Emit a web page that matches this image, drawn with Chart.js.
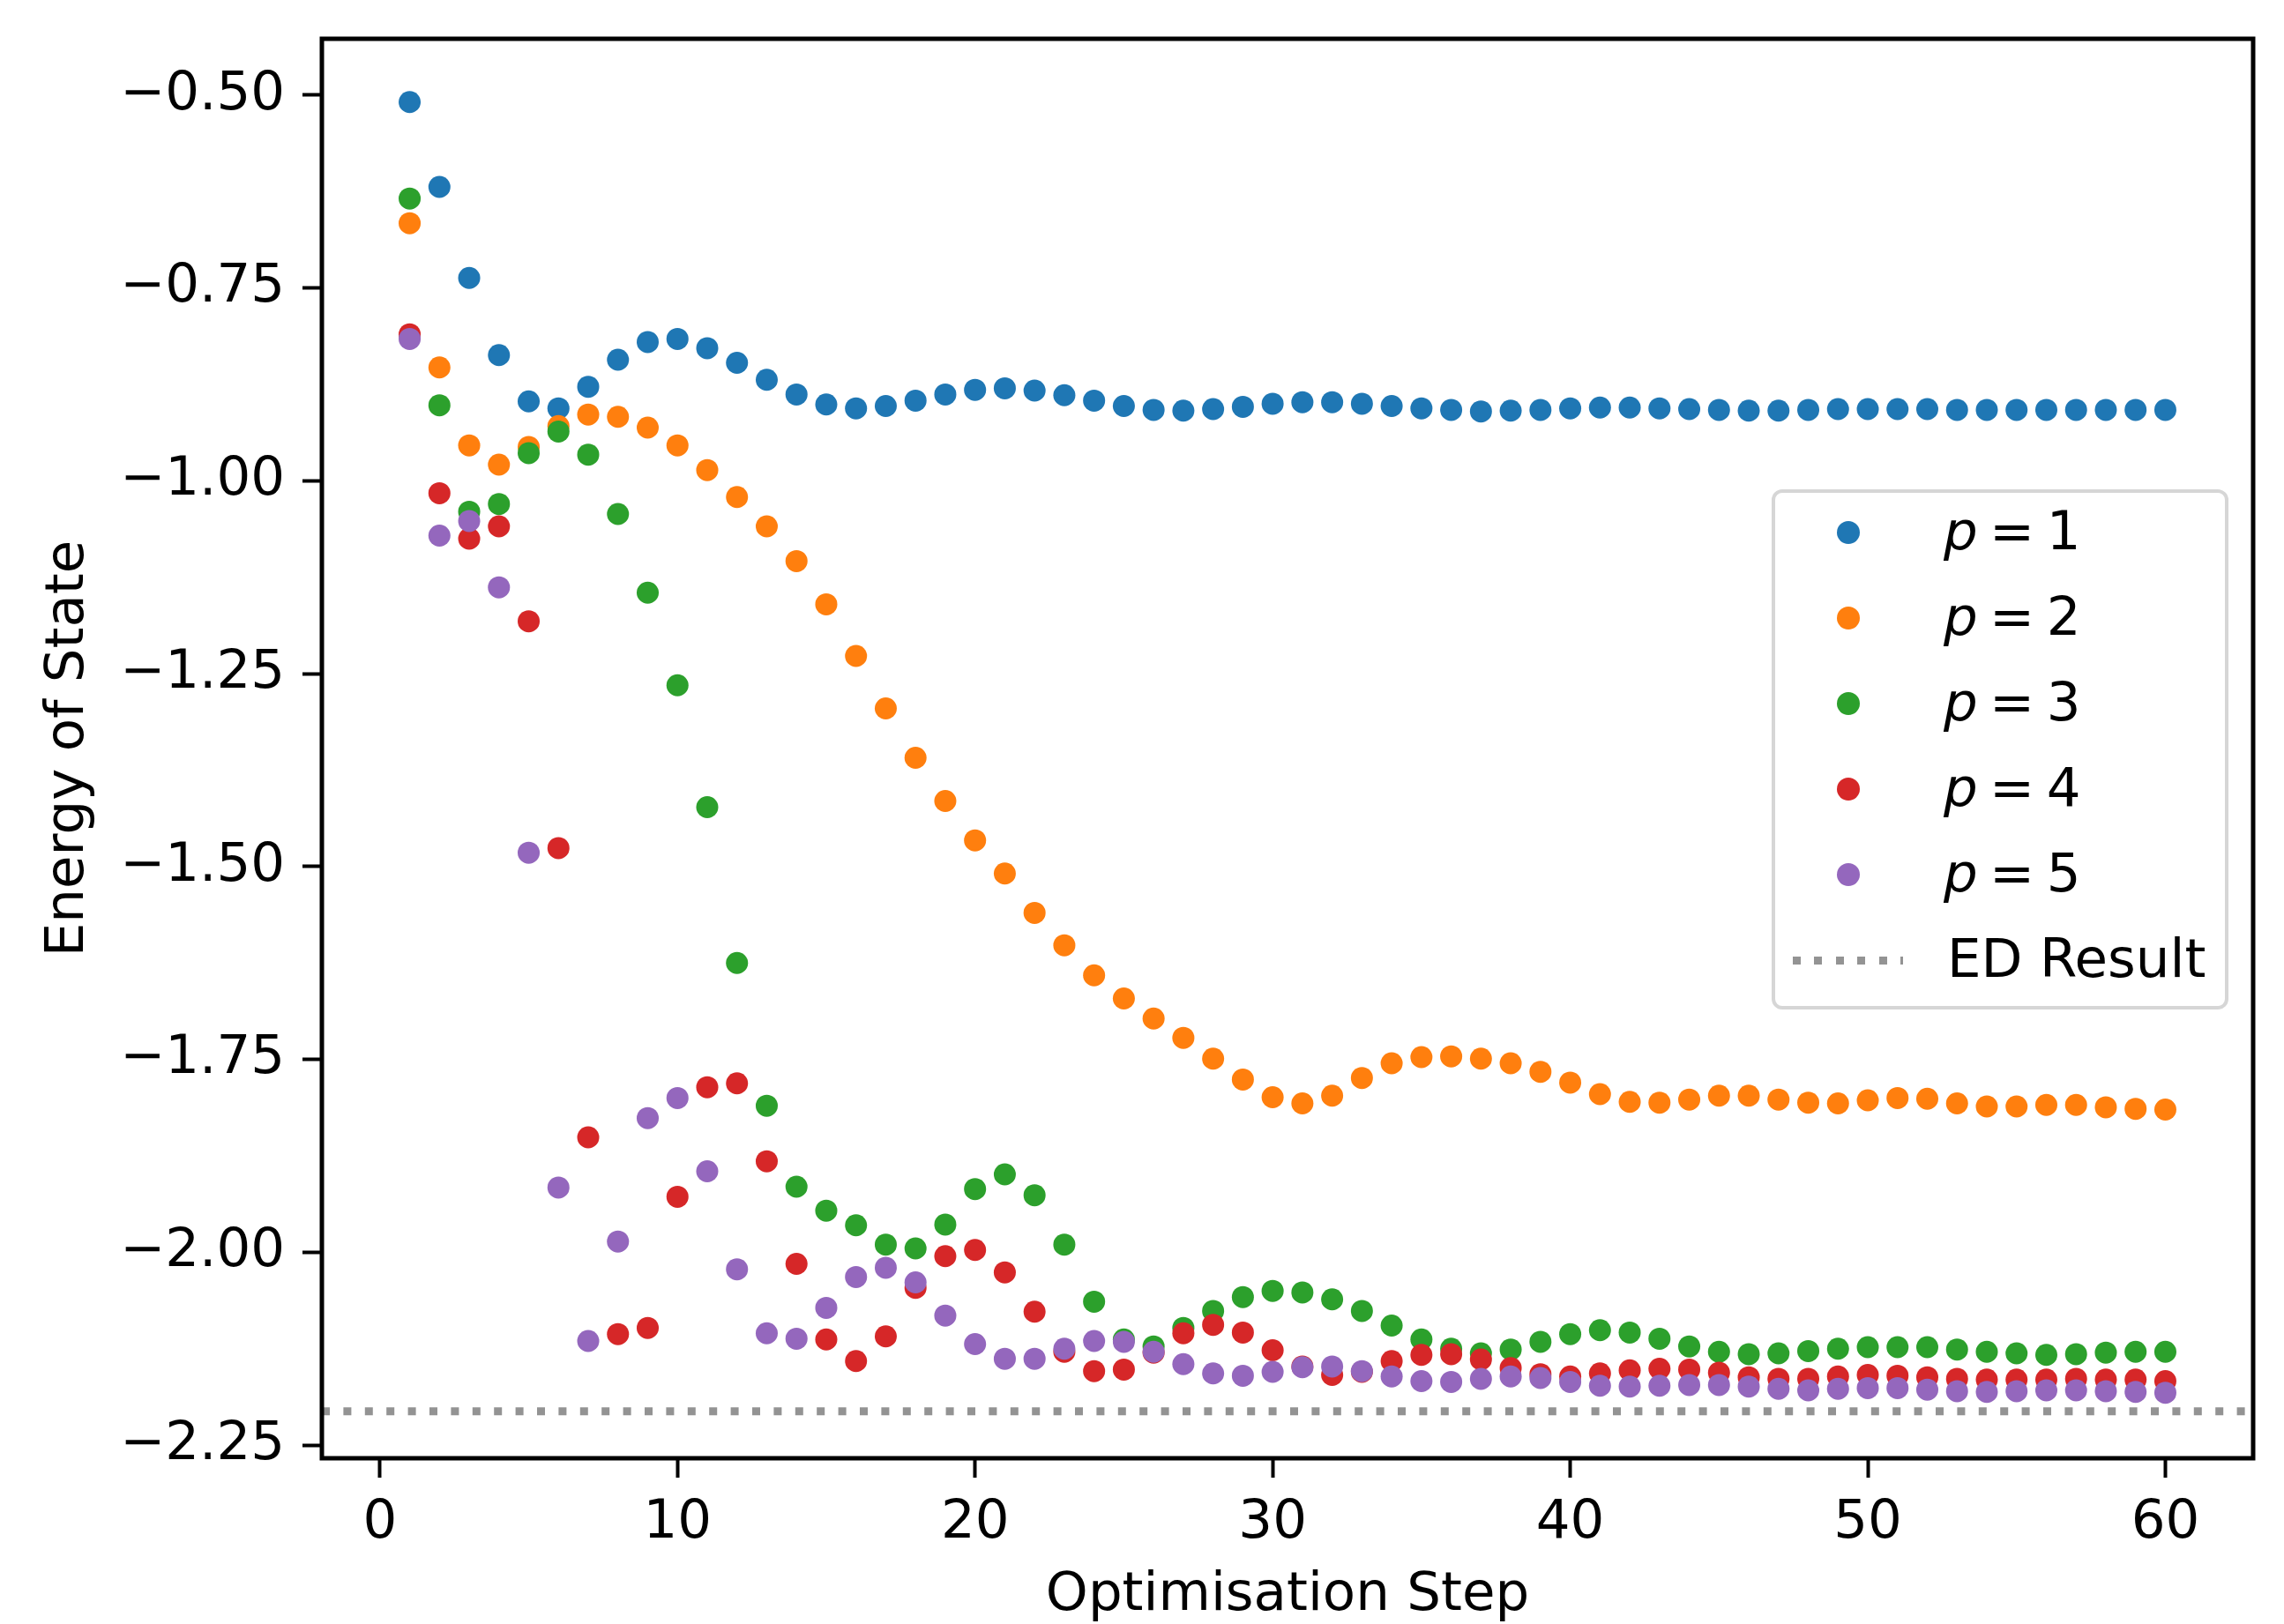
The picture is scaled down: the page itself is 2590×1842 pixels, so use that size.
<!DOCTYPE html>
<html>
<head>
    <title>Energy of State vs Optimisation Step</title>
    <script src="https://cdn.jsdelivr.net/npm/chart.js@4.4.1/dist/chart.umd.min.js"></script>
    <style type="text/css">
        body { margin: 0; background: #ffffff; }
        #wrap { position: relative; width: 2590px; height: 1842px; }
        #legend {
            position: absolute; left: 2009px; top: 555px; width: 518px; height: 590px;
            box-sizing: border-box; border: 4px solid #d6d6d6; border-radius: 12px;
            background: rgba(255, 255, 255, 0.8);
            font-family: 'DejaVu Sans'; font-size: 61px; color: #000;
        }
        .row { position: absolute; left: 0; width: 100%; height: 97px; line-height: 97px; }
        .dot { position: absolute; left: 70px; top: 35px; width: 26px; height: 26px; border-radius: 50%; }
        .dash { position: absolute; left: 20px; top: 44px; width: 125px; height: 9px; }
        .txt { position: absolute; left: 191px; top: -3px; white-space: nowrap; }
        .math { word-spacing: -6px; }
    </style>
</head>
<body>
<div id="wrap">
    <canvas id="Chart"></canvas>
    <div id="legend"></div>
</div>
<script>
    // optimisation steps (x)
    var steps = [1, 2, 3, 4, 5, 6, 7, 8, 9, 10, 11, 12, 13, 14, 15, 16, 17, 18, 19, 20,
                 21, 22, 23, 24, 25, 26, 27, 28, 29, 30, 31, 32, 33, 34, 35, 36, 37, 38, 39, 40,
                 41, 42, 43, 44, 45, 46, 47, 48, 49, 50, 51, 52, 53, 54, 55, 56, 57, 58, 59, 60];

    // energy for each circuit depth p
    var energyP1 = [-0.509, -0.619, -0.737, -0.837, -0.897, -0.906, -0.878, -0.843, -0.820, -0.816,
                    -0.828, -0.847, -0.869, -0.888, -0.901, -0.906, -0.903, -0.896, -0.888, -0.882,
                    -0.880, -0.883, -0.889, -0.896, -0.903, -0.908, -0.909, -0.907, -0.904, -0.900,
                    -0.898, -0.898, -0.900, -0.903, -0.906, -0.908, -0.910, -0.909, -0.908, -0.906,
                    -0.905, -0.905, -0.906, -0.907, -0.908, -0.909, -0.909, -0.908, -0.907, -0.907,
                    -0.907, -0.907, -0.908, -0.908, -0.908, -0.908, -0.908, -0.908, -0.908, -0.908];
    var energyP2 = [-0.666, -0.853, -0.954, -0.979, -0.956, -0.929, -0.914, -0.917, -0.931, -0.954,
                    -0.986, -1.021, -1.059, -1.104, -1.160, -1.227, -1.295, -1.359, -1.415, -1.466,
                    -1.509, -1.560, -1.602, -1.641, -1.671, -1.697, -1.722, -1.749, -1.776, -1.799,
                    -1.807, -1.797, -1.774, -1.755, -1.747, -1.746, -1.749, -1.755, -1.766, -1.780,
                    -1.795, -1.805, -1.806, -1.802, -1.797, -1.797, -1.802, -1.806, -1.807, -1.803,
                    -1.800, -1.801, -1.807, -1.811, -1.811, -1.809, -1.809, -1.812, -1.814, -1.815];
    var energyP3 = [-0.634, -0.902, -1.040, -1.030, -0.964, -0.936, -0.966, -1.043, -1.145, -1.265,
                    -1.423, -1.625, -1.810, -1.915, -1.946, -1.965, -1.990, -1.995, -1.964, -1.918,
                    -1.899, -1.926, -1.990, -2.064, -2.113, -2.122, -2.098, -2.076, -2.058, -2.050,
                    -2.052, -2.061, -2.076, -2.095, -2.113, -2.125, -2.131, -2.126, -2.116, -2.106,
                    -2.101, -2.104, -2.112, -2.122, -2.129, -2.132, -2.131, -2.128, -2.125, -2.123,
                    -2.123, -2.123, -2.126, -2.129, -2.131, -2.133, -2.132, -2.130, -2.129, -2.129];
    var energyP4 = [-0.810, -1.016, -1.075, -1.059, -1.182, -1.476, -1.851, -2.106, -2.098, -1.928,
                    -1.786, -1.781, -1.882, -2.015, -2.113, -2.141, -2.109, -2.046, -2.005, -1.997,
                    -2.026, -2.077, -2.129, -2.154, -2.152, -2.130, -2.105, -2.094, -2.104, -2.127,
                    -2.148, -2.159, -2.155, -2.141, -2.133, -2.132, -2.139, -2.150, -2.158, -2.161,
                    -2.157, -2.153, -2.151, -2.152, -2.156, -2.162, -2.164, -2.164, -2.161, -2.159,
                    -2.160, -2.162, -2.164, -2.165, -2.165, -2.165, -2.164, -2.165, -2.165, -2.167];
    var energyP5 = [-0.816, -1.071, -1.052, -1.138, -1.482, -1.916, -2.115, -1.986, -1.826, -1.800,
                    -1.895, -2.022, -2.105, -2.112, -2.072, -2.032, -2.020, -2.039, -2.082, -2.119,
                    -2.138, -2.138, -2.125, -2.115, -2.116, -2.129, -2.145, -2.157, -2.160, -2.155,
                    -2.149, -2.148, -2.154, -2.161, -2.167, -2.168, -2.164, -2.161, -2.163, -2.168,
                    -2.173, -2.174, -2.173, -2.172, -2.172, -2.174, -2.177, -2.179, -2.177, -2.176,
                    -2.176, -2.178, -2.180, -2.181, -2.180, -2.179, -2.179, -2.180, -2.181, -2.182];

    // exact diagonalisation reference energy
    var edResult = -2.206;

    var depths = [1, 2, 3, 4, 5];
    var colours = ['#1f77b4', '#ff7f0e', '#2ca02c', '#d62728', '#9467bd'];
    var xTicks = [0, 10, 20, 30, 40, 50, 60];
    var yTicks = [-0.50, -0.75, -1.00, -1.25, -1.50, -1.75, -2.00, -2.25];
    var xMin = -1.95, xMax = 62.95;
    var yMin = -2.267, yMax = -0.427;

    var font = 'DejaVu Sans';
    Chart.defaults.font.family = font;
    Chart.defaults.color = '#000';

    var series = [energyP1, energyP2, energyP3, energyP4, energyP5];
    var datasets = series.map(function(vals, i) {
        return {
            label: 'p = ' + depths[i],
            type: 'scatter',
            data: steps.map(function(s, j) { return {x: s, y: vals[j]}; }),
            backgroundColor: colours[i],
            borderWidth: 0,
            pointRadius: 12.5,
            pointHoverRadius: 12.5,
            order: 10 - i
        };
    });
    datasets.push({
        label: 'ED Result',
        type: 'line',
        data: [{x: xMin, y: edResult}, {x: xMax, y: edResult}],
        borderColor: 'rgba(128, 128, 128, 0.85)',
        borderWidth: 9,
        borderDash: [9, 15.4],
        borderCapStyle: 'butt',
        pointRadius: 0,
        fill: false,
        order: 0
    });

    // box round the axes, like the spines
    var framePlugin = {
        id: 'frame',
        afterDatasetsDraw: function(chart) {
            var a = chart.chartArea, ctx = chart.ctx;
            ctx.save();
            ctx.strokeStyle = '#000';
            ctx.lineWidth = 5;
            ctx.strokeRect(a.left, a.top, a.right - a.left, a.bottom - a.top);
            ctx.restore();
        }
    };

    // html legend inside the axes
    var legendPlugin = {
        id: 'htmlLegend',
        afterUpdate: function(chart) {
            var box = document.getElementById('legend');
            var html = '';
            chart.data.datasets.forEach(function(ds, i) {
                html += '<div class="row" style="top:' + (-3 + 97 * i) + 'px">';
                if (ds.type === 'line') {
                    html += '<div class="dash" style="background: repeating-linear-gradient(90deg, ' +
                        ds.borderColor + ' 0 9px, transparent 9px 24.4px)"></div>';
                    html += '<span class="txt" style="left:195px">' + ds.label + '</span>';
                } else {
                    html += '<div class="dot" style="background:' + ds.backgroundColor + '"></div>';
                    html += '<span class="txt math"><i>p</i> = ' + depths[i] + '</span>';
                }
                html += '</div>';
            });
            box.innerHTML = html;
        }
    };

    var gridOpts = {
        display: true,
        drawOnChartArea: false,
        drawTicks: true,
        tickLength: 22,
        tickWidth: 4,
        tickColor: '#000'
    };

    var ctx = document.getElementById('Chart').getContext('2d');
    var chart = new Chart(ctx, {
        type: 'scatter',
        data: { datasets: datasets },
        plugins: [framePlugin, legendPlugin],
        options: {
            responsive: true,
            maintainAspectRatio: false,
            animation: false,
            devicePixelRatio: 1,
            layout: { padding: { left: 0, right: 35, top: 44, bottom: 0 } },
            plugins: {
                legend: { display: false },
                tooltip: { enabled: false }
            },
            scales: {
                x: {
                    type: 'linear',
                    min: xMin,
                    max: xMax,
                    afterBuildTicks: function(scale) {
                        scale.ticks = xTicks.map(function(v) { return {value: v}; });
                    },
                    afterFit: function(scale) {
                        scale.height = 188;
                        scale.paddingLeft = 0;
                        scale.paddingRight = 0;
                    },
                    border: { display: false },
                    grid: gridOpts,
                    ticks: {
                        font: { size: 61 },
                        padding: 16,
                        maxRotation: 0,
                        callback: function(v) { return String(v); }
                    },
                    title: {
                        display: true,
                        text: 'Optimisation Step',
                        font: { size: 61 },
                        padding: { top: 0, bottom: -5 }
                    }
                },
                y: {
                    type: 'linear',
                    min: yMin,
                    max: yMax,
                    afterBuildTicks: function(scale) {
                        scale.ticks = yTicks.map(function(v) { return {value: v}; });
                    },
                    afterFit: function(scale) {
                        scale.width = 365;
                        scale.paddingTop = 0;
                        scale.paddingBottom = 0;
                    },
                    border: { display: false },
                    grid: gridOpts,
                    ticks: {
                        font: { size: 61 },
                        padding: 20,
                        callback: function(v) {
                            return (v < 0 ? '\u2212' : '') + Math.abs(v).toFixed(2);
                        }
                    },
                    title: {
                        display: true,
                        text: 'Energy of State',
                        font: { size: 61 },
                        padding: { top: 42, bottom: 0 }
                    }
                }
            }
        }
    });
</script>
</body>
</html>
